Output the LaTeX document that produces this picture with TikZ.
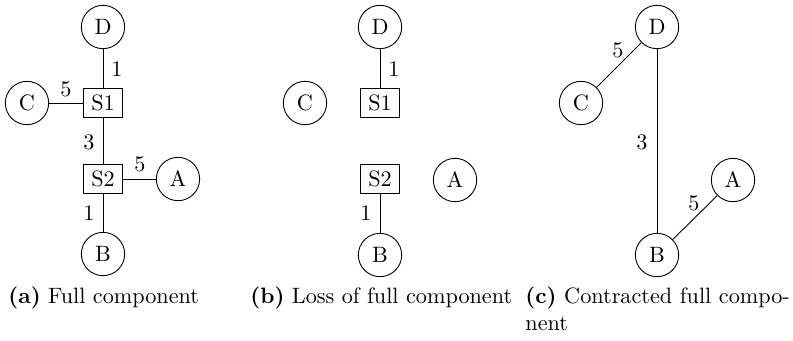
\documentclass[tikz,border=0pt]{standalone}
\begin{document}
\begin{tikzpicture}[x=0.45pt,y=-0.45pt,
  term/.style={draw,circle,minimum size=19.5pt,inner sep=0pt},
  steiner/.style={draw,rectangle,minimum width=17.5pt,minimum height=13pt,inner sep=2pt},
  edge/.style={draw,line width=0.4pt},
  wlabel/.style={inner sep=1pt},
  captext/.style={anchor=base west,inner sep=0pt}]
\useasboundingbox (0,0) rectangle (793,340);
% (a)
\node[term] (aD) at (103,27) {D};
\node[steiner] (aS1) at (103,103) {S1};
\node[term] (aC) at (27,103) {C};
\node[steiner] (aS2) at (103,179) {S2};
\node[term] (aA) at (178,179) {A};
\node[term] (aB) at (103,254) {B};
\draw[edge] (aD) -- (aS1);
\draw[edge] (aC) -- (aS1);
\draw[edge] (aS1) -- (aS2);
\draw[edge] (aS2) -- (aA);
\draw[edge] (aS2) -- (aB);
\node[wlabel] (la1) at (117,69) {1};
\node[wlabel] (la2) at (66,89) {5};
\node[wlabel] (la3) at (89,142) {3};
\node[wlabel] (la4) at (140,164) {5};
\node[wlabel] (la5) at (89,213) {1};
% (b)
\node[term] (bD) at (380,27) {D};
\node[steiner] (bS1) at (380,103) {S1};
\node[term] (bC) at (305,103) {C};
\node[steiner] (bS2) at (380,179) {S2};
\node[term] (bA) at (455,180) {A};
\node[term] (bB) at (380,255) {B};
\draw[edge] (bD) -- (bS1);
\draw[edge] (bS2) -- (bB);
\node[wlabel] (lb1) at (394,69) {1};
\node[wlabel] (lb2) at (366,213) {1};
% (c)
\node[term] (cD) at (657,27) {D};
\node[term] (cC) at (581,103) {C};
\node[term] (cA) at (733,180) {A};
\node[term] (cB) at (657,255) {B};
\draw[edge] (cD) -- (cC);
\draw[edge] (cD) -- (cB);
\draw[edge] (cA) -- (cB);
\node[wlabel] (lc1) at (618,50) {5};
\node[wlabel] (lc2) at (642,142) {3};
\node[wlabel] (lc3) at (694,203) {5};
% captions
\node[captext] (capa) at (8,303) {\textbf{(a)} Full component};
\node[captext] (capb) at (250,303) {\textbf{(b)} Loss of full component};
\node[captext] (capc) at (525,303) {\hbox to 119pt{\textbf{(c)} Contracted full compo-}};
\node[captext] (capc2) at (525,330) {nent};
\end{tikzpicture}
\end{document}
